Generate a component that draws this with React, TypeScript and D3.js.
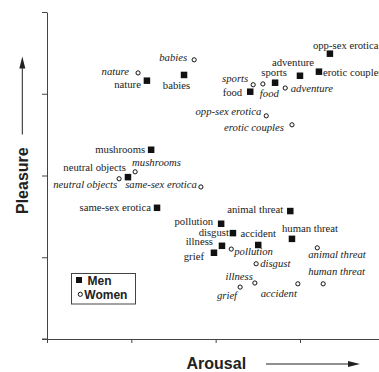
import React, { useEffect, useRef } from "react";
import * as d3 from "d3";

const categories = [
  "nature", "babies", "adventure", "opp-sex erotica", "erotic couples", "sports", "food",
  "mushrooms", "neutral objects", "same-sex erotica", "animal threat", "pollution",
  "disgust", "accident", "human threat", "illness", "grief",
];
const menArousal = [3.37, 4.25, 7.0, 7.71, 7.45, 6.41, 5.82, 3.47, 2.92, 3.61, 6.77, 5.13, 5.41, 6.01, 6.81, 5.15, 4.96];
const menPleasure = [7.32, 7.46, 7.44, 7.98, 7.54, 7.27, 7.05, 5.63, 4.96, 4.21, 4.13, 3.82, 3.59, 3.3, 3.45, 3.28, 3.11];
const womenArousal = [3.16, 4.49, 6.65, 6.2, 6.81, 5.89, 6.12, 3.09, 2.71, 4.65, 7.41, 5.37, 5.96, 6.95, 7.55, 5.93, 5.58];
const womenPleasure = [7.51, 7.83, 7.14, 6.46, 6.24, 7.22, 7.24, 5.09, 4.92, 4.72, 3.23, 3.2, 2.84, 2.35, 2.35, 2.37, 2.27];
const axisTicks = [1, 3, 5, 7, 9];
const legendItems = ["Men", "Women"];

// label placement: [dx, dy, anchor]
const menLabelPos: [number, number, string][] = [
  [-6, 7, "end"], [-7.5, 14, "middle"], [-7, -10, "middle"], [-17, -5, "start"], [4, 4.5, "start"],
  [-1, -7, "middle"], [-8, 4, "end"], [-6, 3, "end"], [-2, -6, "end"], [-6, 3.5, "end"],
  [-7, 2, "end"], [-8, 1, "end"], [-4, 3, "end"], [0, -8, "middle"], [-10, -7, "start"],
  [-9, -1, "end"], [-10, 7.5, "end"],
];
const womenLabelPos: [number, number, string][] = [
  [-9, 2, "end"], [-7, 1, "end"], [5.5, 4, "start"], [-5, -1, "end"], [-8, 6, "end"],
  [-5, -3, "end"], [-3, 13, "start"], [-3, -6, "start"], [-2, 9, "end"], [-4, 1.5, "end"],
  [-9, 10, "start"], [3, 6, "start"], [4, 3.5, "start"], [-1, 13, "end"], [-15, -9, "start"],
  [-2, -3.5, "end"], [-3, 12, "end"],
];

const W = 379, H = 372;

export default function App() {
  const ref = useRef<SVGSVGElement>(null);
  useEffect(() => {
    const svg = d3.select(ref.current);
    svg.selectAll("*").remove();
    const x = d3.scaleLinear().domain([1, 9]).range([47, 384.3]);
    const y = d3.scaleLinear().domain([1, 9]).range([339, 12]);
    const axisColor = "#444";
    const textColor = "#222";
    const sans = "'Liberation Sans', Arial, Helvetica, sans-serif";
    const serif = "'Liberation Serif', 'Times New Roman', Times, serif";
    const fs = 10.7;

    // axes
    const ya = svg.append("g").attr("transform", `translate(${x(1)},0)`)
      .call(d3.axisLeft(y).tickValues(axisTicks).tickSize(5).tickSizeOuter(0).tickFormat(() => ""));
    ya.select(".domain").attr("stroke", axisColor);
    ya.selectAll(".tick line").attr("stroke", axisColor);
    const xa = svg.append("g").attr("transform", `translate(0,${y(1)})`)
      .call(d3.axisBottom(x).tickValues(axisTicks).tickSize(4).tickSizeOuter(0).tickFormat(() => ""));
    xa.select(".domain").attr("stroke", axisColor);
    xa.selectAll(".tick line").attr("stroke", axisColor);
    svg.append("line").attr("x1", 42).attr("x2", x(1)).attr("y1", y(1)).attr("y2", y(1)).attr("stroke", axisColor);

    // axis titles with arrows
    svg.append("text").attr("x", 186.5).attr("y", 368.5)
      .style("font-family", sans).attr("font-weight", "bold")
      .attr("font-size", 16).attr("fill", textColor).text("Arousal");
    svg.append("line").attr("x1", 266).attr("x2", 350).attr("y1", 364).attr("y2", 364).attr("stroke", textColor).attr("stroke-width", 1);
    svg.append("path").attr("d", "M348,361 L360,364 L348,367 Z").attr("fill", textColor);

    svg.append("text").attr("transform", "translate(27.5,214) rotate(-90)")
      .style("font-family", sans).attr("font-weight", "bold")
      .attr("font-size", 16).attr("fill", textColor).text("Pleasure");
    svg.append("line").attr("x1", 22.3).attr("x2", 22.3).attr("y1", 134.5).attr("y2", 66).attr("stroke", textColor).attr("stroke-width", 1);
    svg.append("path").attr("d", "M19.3,68.5 L22.3,56.5 L25.3,68.5 Z").attr("fill", textColor);

    // women labels + markers
    categories.forEach((c, i) => {
      const cx = x(womenArousal[i]), cy = y(womenPleasure[i]);
      const [dx, dy, anchor] = womenLabelPos[i];
      svg.append("text").attr("x", cx + dx).attr("y", cy + dy).attr("text-anchor", anchor)
        .style("font-family", serif).attr("font-style", "italic").attr("font-size", fs)
        .attr("fill", textColor).text(c);
      svg.append("circle").attr("cx", cx).attr("cy", cy).attr("r", 2.1)
        .attr("fill", "#fff").attr("stroke", "#111").attr("stroke-width", 1);
    });
    // men labels + markers
    const s = 6.5;
    categories.forEach((c, i) => {
      const cx = x(menArousal[i]), cy = y(menPleasure[i]);
      const [dx, dy, anchor] = menLabelPos[i];
      svg.append("text").attr("x", cx + dx).attr("y", cy + dy).attr("text-anchor", anchor)
        .style("font-family", serif).attr("font-size", fs)
        .attr("fill", textColor).text(c);
      svg.append("rect").attr("x", cx - s / 2).attr("y", cy - s / 2).attr("width", s).attr("height", s)
        .attr("fill", "#111");
    });

    // legend
    const lg = svg.append("g");
    lg.append("rect").attr("x", 71.5).attr("y", 273.5).attr("width", 64).attr("height", 30.5)
      .attr("fill", "#fff").attr("stroke", "#444").attr("stroke-width", 1);
    legendItems.forEach((name, i) => {
      const yy = 285 + i * 14;
      if (i === 0) {
        lg.append("rect").attr("x", 76).attr("y", yy - 8).attr("width", 6).attr("height", 6).attr("fill", "#111");
      } else {
        lg.append("circle").attr("cx", 80.3).attr("cy", yy - 4.7).attr("r", 2.1)
          .attr("fill", "#fff").attr("stroke", "#111");
      }
      lg.append("text").attr("x", i === 0 ? 87.5 : 84.3).attr("y", yy)
        .style("font-family", sans).attr("font-weight", "bold")
        .attr("font-size", 12).attr("fill", textColor).text(name);
    });
  }, []);
  return (
    <svg ref={ref} width={W} height={H} style={{ position: "absolute", left: 0, top: 0, background: "#fff" }} />
  );
}
